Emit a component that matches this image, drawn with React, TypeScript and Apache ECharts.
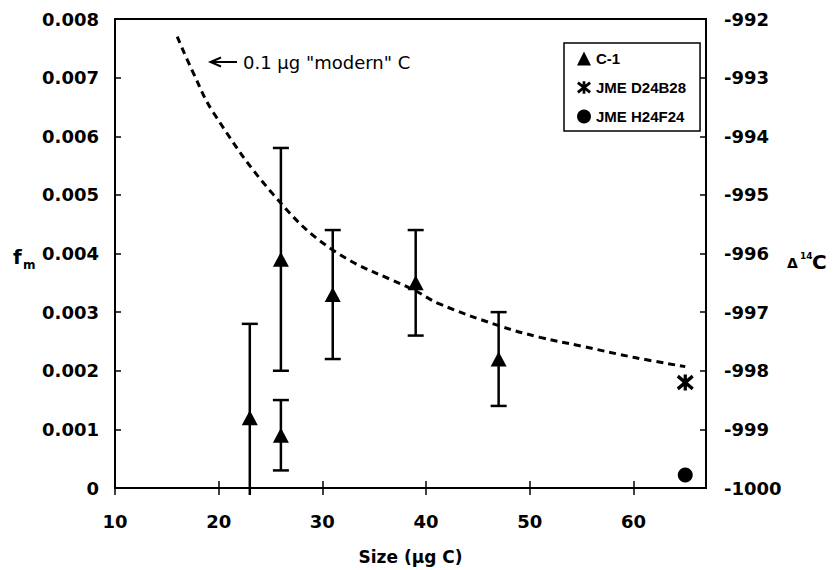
import React, { useEffect, useRef } from "react";
import * as echarts from "echarts";

// ---- data ----
const c1Size = [23, 26, 26, 31, 39, 47];
const c1Fm = [0.0012, 0.0039, 0.0009, 0.0033, 0.0035, 0.0022];
const c1Low = [-0.0004, 0.002, 0.0003, 0.0022, 0.0026, 0.0014];
const c1High = [0.0028, 0.0058, 0.0015, 0.0044, 0.0044, 0.003];

const d24Size = [65];
const d24Fm = [0.0018];

const h24Size = [65];
const h24Fm = [0.00022];

// dashed "0.1 µg modern C" curve
const curveSize = [16, 17.5, 19.5, 25.3, 31, 39, 41.3, 47, 51, 55, 60, 65];
const curveFm = [0.0077, 0.0071, 0.0064, 0.005, 0.00406, 0.00336, 0.00314, 0.00277, 0.00257, 0.00242, 0.00223, 0.00207];

const fmTicks = { min: 0, max: 0.008, interval: 0.001 };
const d14Ticks = { min: -1000, max: -992, interval: 1 };
const sizeTicks = { min: 10, max: 67, interval: 10 };

const seriesNames = ["C-1", "JME D24B28", "JME H24F24"];
const xTitle = "Size (\u00b5g C)";
const noteText = "0.1 \u00b5g \"modern\" C";

const FF = "DejaVu Sans";
const ASTER =
  "path://M-0.22,-1 L0.22,-1 L0.22,1 L-0.22,1 Z " +
  "M-1.14,-0.63 L-0.86,-0.97 L1.14,0.63 L0.86,0.97 Z " +
  "M-0.86,0.97 L-1.14,0.63 L0.86,-0.97 L1.14,-0.63 Z";

export default function App() {
  const ref = useRef<HTMLDivElement>(null);
  useEffect(() => {
    if (!ref.current) return;
    const chart = echarts.init(ref.current, null, { renderer: "svg" });
    const tickLabel = { color: "#000", fontFamily: FF, fontWeight: "bold" as const, fontSize: 18 };
    const axisLine = { show: true, lineStyle: { color: "#000", width: 2 } };
    const option: any = {
      animation: false,
      backgroundColor: "#fff",
      grid: {
        left: 115,
        right: 129,
        top: 19,
        bottom: 78,
        show: true,
        borderColor: "#000",
        borderWidth: 2,
        backgroundColor: "transparent",
      },
      legend: {
        data: [
          { name: seriesNames[0], icon: "triangle" },
          { name: seriesNames[1], icon: ASTER },
          { name: seriesNames[2], icon: "circle" },
        ],
        orient: "vertical",
        left: 564,
        top: 43,
        padding: [8, 14, 7, 13],
        itemWidth: 14,
        itemHeight: 14,
        itemGap: 14,
        borderColor: "#000",
        borderWidth: 1.5,
        backgroundColor: "#fff",
        textStyle: { fontFamily: "Liberation Sans", fontWeight: "bold", fontSize: 15, color: "#000" },
      },
      xAxis: [
        {
          type: "value",
          ...sizeTicks,
          axisLine,
          axisTick: { show: true, inside: false, length: 7, lineStyle: { color: "#000", width: 1.5 } },
          axisLabel: { ...tickLabel, margin: 24, showMaxLabel: false },
          splitLine: { show: false },
          name: xTitle,
          nameLocation: "middle",
          nameGap: 60,
          nameTextStyle: { color: "#000", fontFamily: FF, fontWeight: "bold", fontSize: 17 },
        },
        {
          type: "value",
          ...sizeTicks,
          position: "bottom",
          axisLine: { show: false },
          axisTick: { show: true, inside: true, length: 7, lineStyle: { color: "#000", width: 1.5 } },
          axisLabel: { show: false },
          splitLine: { show: false },
        },
      ],
      yAxis: [
        {
          type: "value",
          ...fmTicks,
          position: "left",
          axisLine,
          axisTick: { show: true, inside: true, length: 6, lineStyle: { color: "#000", width: 1.5 } },
          axisLabel: { ...tickLabel, margin: 16 },
          splitLine: { show: false },
        },
        {
          type: "value",
          ...d14Ticks,
          position: "right",
          axisLine,
          axisTick: { show: true, inside: true, length: 6, lineStyle: { color: "#000", width: 1.5 } },
          axisLabel: { ...tickLabel, margin: 18, formatter: (v: number) => String(Math.round(v)) },
          splitLine: { show: false },
        },
      ],
      series: [
        {
          type: "custom",
          name: "errors",
          xAxisIndex: 0,
          yAxisIndex: 0,
          silent: true,
          z: 2,
          clip: false,
          encode: { x: 0, y: [1, 2] },
          data: c1Size.map((s, i) => [s, c1Low[i], c1High[i]]),
          renderItem: (params: any, api: any) => {
            const x = api.value(0);
            const lo = api.value(1);
            const hi = api.value(2);
            const top = api.coord([x, hi]);
            const bot = api.coord([x, lo]);
            const cs = params.coordSys;
            const maxY = cs.y + cs.height + 7;
            let by = bot[1];
            let cap = true;
            if (by > maxY) {
              by = maxY;
              cap = false;
            }
            const st = { stroke: "#000", lineWidth: 2.5, fill: "none" };
            const half = 8;
            const children: any[] = [
              { type: "line", shape: { x1: top[0], y1: top[1], x2: top[0], y2: by }, style: st },
              { type: "line", shape: { x1: top[0] - half, y1: top[1], x2: top[0] + half, y2: top[1] }, style: st },
            ];
            if (cap) {
              children.push({
                type: "line",
                shape: { x1: top[0] - half, y1: by, x2: top[0] + half, y2: by },
                style: st,
              });
            }
            return { type: "group", children };
          },
        },
        {
          type: "line",
          name: "curve",
          data: curveSize.map((s, i) => [s, curveFm[i]]),
          smooth: 0.4,
          symbol: "none",
          z: 2,
          lineStyle: { color: "#000", width: 3, type: [7, 5] },
          silent: true,
        },
        {
          type: "scatter",
          name: seriesNames[0],
          data: c1Size.map((s, i) => [s, c1Fm[i]]),
          symbol: "triangle",
          symbolSize: [16, 15],
          itemStyle: { color: "#000", opacity: 1 },
          z: 4,
        },
        {
          type: "scatter",
          name: seriesNames[1],
          data: d24Size.map((s, i) => [s, d24Fm[i]]),
          symbol: ASTER,
          symbolSize: [17, 16],
          itemStyle: { color: "#000", opacity: 1 },
          z: 4,
        },
        {
          type: "scatter",
          name: seriesNames[2],
          data: h24Size.map((s, i) => [s, h24Fm[i]]),
          symbol: "circle",
          symbolSize: 15,
          itemStyle: { color: "#000", opacity: 1 },
          z: 4,
        },
      ],
      graphic: [
        { type: "line", shape: { x1: 211, y1: 62, x2: 237, y2: 62 }, style: { stroke: "#000", lineWidth: 2 } },
        {
          type: "polyline",
          shape: { points: [[221, 57.5], [210.5, 62], [221, 66.5]] },
          style: { stroke: "#000", lineWidth: 2, fill: "none" },
        },
        {
          type: "text",
          x: 243,
          y: 62,
          style: { text: noteText, fontFamily: FF, fontSize: 18, fill: "#000", verticalAlign: "middle", align: "left" },
        },
        {
          type: "text",
          x: 13,
          y: 257,
          style: { text: "f", fontFamily: FF, fontWeight: "bold", fontSize: 20, fill: "#000", verticalAlign: "middle", align: "left" },
        },
        {
          type: "text",
          x: 23,
          y: 265,
          style: { text: "m", fontFamily: FF, fontWeight: "bold", fontSize: 12, fill: "#000", verticalAlign: "middle", align: "left" },
        },
        {
          type: "text",
          x: 787,
          y: 263,
          style: { text: "\u0394", fontFamily: FF, fontWeight: "bold", fontSize: 14, fill: "#000", verticalAlign: "middle", align: "left" },
        },
        {
          type: "text",
          x: 800,
          y: 256,
          style: { text: "14", fontFamily: FF, fontWeight: "bold", fontSize: 9, fill: "#000", verticalAlign: "middle", align: "left" },
        },
        {
          type: "text",
          x: 812,
          y: 262,
          style: { text: "C", fontFamily: FF, fontWeight: "bold", fontSize: 20, fill: "#000", verticalAlign: "middle", align: "left" },
        },
      ],
    };
    chart.setOption(option);
    return () => chart.dispose();
  }, []);
  return (
    <div
      ref={ref}
      style={{ position: "fixed", left: 0, top: 0, width: 835, height: 570, background: "#fff" }}
    />
  );
}
